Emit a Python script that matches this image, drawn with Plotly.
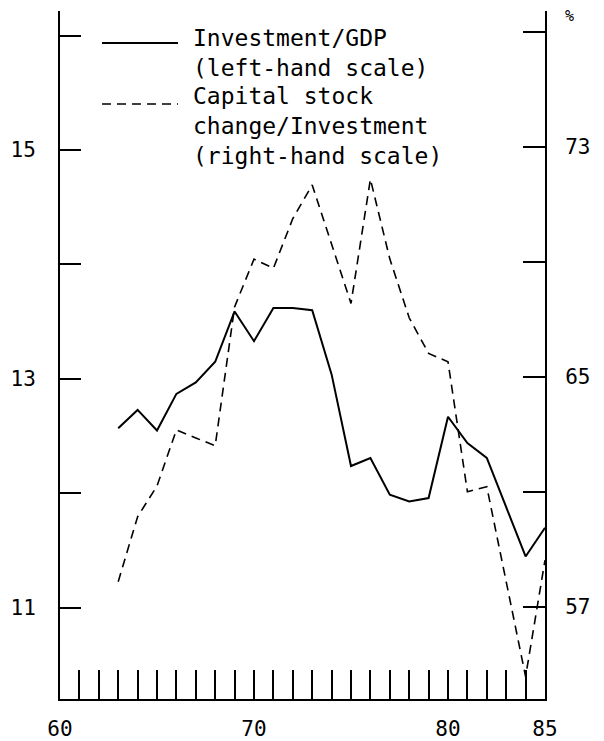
import plotly.graph_objects as go

years = list(range(63, 86))
inv_gdp = [12.57, 12.73, 12.55, 12.87, 12.97, 13.15, 13.59, 13.33, 13.62, 13.62,
           13.60, 13.04, 12.24, 12.31, 11.99, 11.93, 11.96, 12.67, 12.44, 12.31,
           11.88, 11.45, 11.70]
cap_ratio = [57.87, 60.13, 61.2, 63.15, 62.87, 62.6, 67.43, 69.09, 68.77, 70.5,
             71.67, 69.64, 67.55, 71.87, 69.1, 67.05, 65.81, 65.52, 61.0, 61.17,
             57.9, 54.57, 58.62]

x_ticks = list(range(60, 86))
x_labels = {60: "60", 70: "70", 80: "80", 85: "85"}
left_ticks = [11, 12, 13, 14, 15, 16]
left_labels = ["11", "", "13", "", "15", ""]
right_ticks = [57, 61, 65, 69, 73, 77]
right_labels = ["57", "", "65", "", "73", ""]

FONT = "DejaVu Sans Mono"

fig = go.Figure()
fig.add_trace(go.Scatter(x=years, y=inv_gdp, mode="lines",
                         line=dict(color="black", width=2), yaxis="y",
                         showlegend=False))
fig.add_trace(go.Scatter(x=years, y=cap_ratio, mode="lines",
                         line=dict(color="black", width=1.6, dash="9px,6px"),
                         yaxis="y2", showlegend=False))

W, H = 604, 741
L, R, T, B = 60, 59, 11, 42
pw, ph = W - L - R, H - T - B

def px(x):
    return (x - L) / pw

def py(y):
    return 1 - (y - T) / ph

# legend samples
fig.add_shape(type="line", xref="paper", yref="paper", x0=px(102), x1=px(178),
              y0=py(43), y1=py(43), line=dict(color="black", width=2))
fig.add_shape(type="line", xref="paper", yref="paper", x0=px(102), x1=px(178),
              y0=py(104), y1=py(104), line=dict(color="black", width=1.6, dash="9px,6px"))
fig.add_annotation(xref="paper", yref="paper", x=px(191), y=py(53), xanchor="left",
                   yanchor="middle", align="left", showarrow=False,
                   text="Investment/GDP<br>(left-hand scale)",
                   font=dict(family=FONT, size=23, color="black"))
fig.add_annotation(xref="paper", yref="paper", x=px(191), y=py(126), xanchor="left",
                   yanchor="middle", align="left", showarrow=False,
                   text="Capital stock<br>change/Investment<br>(right-hand scale)",
                   font=dict(family=FONT, size=23, color="black"))
fig.add_annotation(xref="paper", yref="paper", x=px(563), y=py(16), xanchor="left",
                   yanchor="middle", showarrow=False, text="%",
                   font=dict(family=FONT, size=15, color="black"))

fig.update_layout(
    width=W, height=H,
    margin=dict(l=L, r=R, t=T, b=B, pad=0, autoexpand=False),
    paper_bgcolor="white", plot_bgcolor="white",
    font=dict(family=FONT, size=21, color="black"),
    xaxis=dict(range=[60, 85], tickvals=x_ticks,
               ticktext=[x_labels.get(v, "") for v in x_ticks],
               ticks="inside", ticklen=29, tickwidth=2, tickcolor="black",
               showline=True, linewidth=2, linecolor="black", showgrid=False,
               zeroline=False, ticklabelstandoff=10, automargin=False),
    yaxis=dict(range=[10.205, 16.214], tickvals=left_ticks, ticktext=left_labels,
               ticks="inside", ticklen=21, tickwidth=2, tickcolor="black",
               showline=True, linewidth=2, linecolor="black", showgrid=False,
               zeroline=False, ticklabelstandoff=18, automargin=False),
    yaxis2=dict(range=[53.79, 77.72], tickvals=right_ticks, ticktext=right_labels,
                overlaying="y", side="right",
                ticks="inside", ticklen=22, tickwidth=2, tickcolor="black",
                showline=True, linewidth=2, linecolor="black", showgrid=False,
                zeroline=False, ticklabelstandoff=14, automargin=False),
)

fig.write_html("out.html")
